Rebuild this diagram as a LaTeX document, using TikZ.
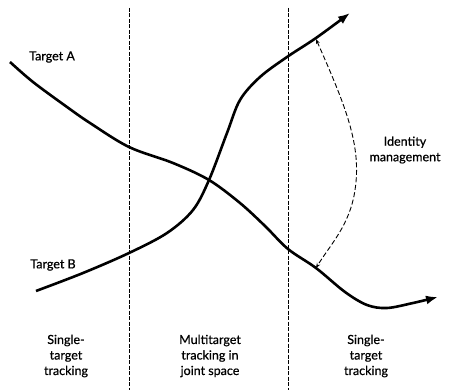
\documentclass[tikz,border=0pt]{standalone}
\usepackage{fontspec}
\setmainfont{Lato}[FakeBold=0.7]
\usetikzlibrary{arrows.meta}

\begin{document}
\begin{tikzpicture}[x=1pt, y=-1pt,
    every node/.style={font=\fontsize{12.5}{15.5}\selectfont},
    track/.style={line width=2.6pt, -{Latex[length=12pt, width=9pt]}},
    zone/.style={dash pattern=on 4pt off 1.5pt, line width=0.9pt},
    idarr/.style={dash pattern=on 5pt off 2.5pt, line width=0.9pt,
                  {Stealth[length=5pt]}-{Stealth[length=5pt]}},
    lbl/.style={align=center, inner sep=0pt}]

    \useasboundingbox (0,0) rectangle (452,390);

    %% Zone boundaries
    \coordinate (z1top) at (129,8);
    \coordinate (z1bot) at (129,390);
    \coordinate (z2top) at (288,8);
    \coordinate (z2bot) at (288,390);
    \draw[zone] (z1top) -- (z1bot);
    \draw[zone] (z2top) -- (z2bot);

    %% Target tracks
    \draw[track] plot[smooth, tension=0.55] coordinates
      {(10,62) (33,82) (67,107) (90,123) (129,147) (173,163) (209,180)
       (240,203) (265,226) (288,249) (316,268) (345,292) (367,305)
       (387,308) (413,303) (438,297)};
    \draw[track] plot[smooth, tension=0.55] coordinates
      {(36,291) (83,273) (129,253) (167,233) (193,210) (209,180)
       (227,133) (240,100) (260,77) (287,57) (316,38) (350,13)};

    %% Identity link
    \coordinate (idA) at (316,39);
    \coordinate (idB) at (316,268);
    \draw[idarr] (idA) .. controls (345,105) and (362,145) .. (355,190)
                 .. controls (350,225) and (330,245) .. (idB);

    %% Labels
    \node[lbl] (tA) at (52,57) {Target A};
    \node[lbl] (tB) at (53,265) {Target B};
    \node[lbl] (idm) at (405,150) {Identity\\management};
    \node[lbl] (left) at (66,356) {Single-\\target\\tracking};
    \node[lbl] (mid) at (210,356) {Multitarget\\tracking in\\joint space};
    \node[lbl] (right) at (366,356) {Single-\\target\\tracking};
\end{tikzpicture}
\end{document}
